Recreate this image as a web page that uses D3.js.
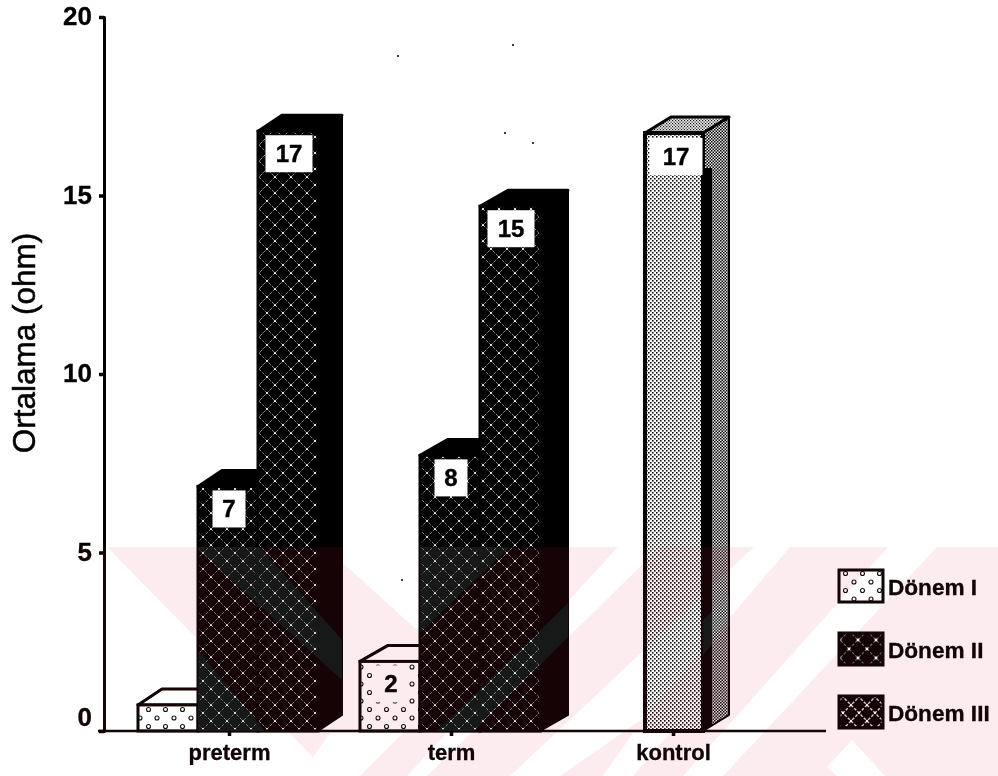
<!DOCTYPE html>
<html><head><meta charset="utf-8">
<script src="https://cdnjs.cloudflare.com/ajax/libs/d3/7.8.5/d3.min.js"></script>
<style>html,body{margin:0;padding:0;background:#fff}svg{display:block}text{font-family:"Liberation Sans",Arial,sans-serif;fill:#000;stroke:#000}path{stroke-linejoin:round}</style>
</head><body><div id="c"></div>
<script>
const categories=["preterm","term","kontrol"];
const seriesNames=["Dönem I","Dönem II","Dönem III"];
const preterm=[0.73,6.85,16.8];
const term=[1.95,7.72,14.7];
const kontrol=[null,null,16.75];
const pretermLabels=[null,"7","17"];
const termLabels=["2","8","15"];
const kontrolLabels=[null,null,"17"];
const yTicks=[0,5,10,15,20];
const W=998,H=776;
// watermark background shapes (scan artefact, not data)
const wmGaps=[
 [[0,547],[107,547],[313,757],[294,776],[0,776]],
 [[343,547],[430,547],[430,642],[343,563]],
 [[313,757],[294,776],[360,776],[403,733],[330,733]],
 [[618,547],[660,547],[427,776],[407,776]],
 [[754,547],[790,547],[645,717],[560,776],[510,776]],
 [[633,733],[670,733],[633,776],[603,776]],
 [[888,547],[937,547],[723,776],[683,776]],
 [[827,767],[852,740],[885,776],[837,776]]];
const wmGrey=[
 [[198,547],[260,547],[342,640],[342,680],[198,550]],
 [[198,650],[265,731],[198,731]],
 [[420,547],[510,547],[420,633]],
 [[568,603],[568,637],[474,731],[437,731]],
 [[703,620],[729,595],[729,625],[703,655]]];
const specks=[[398,56],[513,45],[505,133],[533,143],[402,580]];

const svg=d3.select("#c").append("svg").attr("width",W).attr("height",H);
const defs=svg.append("defs");
const y=d3.scaleLinear().domain([0,20]).range([731,17]);
const groupStart=d3.scaleOrdinal().domain(categories).range([138,360,645]);
const depth=d3.scaleOrdinal().domain(categories).range([24,28,26]);
const catX=d3.scalePoint().domain(categories).range([229,673]);
const bw=60,dy=16;

function lattice(id,s,lw,op,r){const p=defs.append("pattern").attr("id",id).attr("width",s).attr("height",s).attr("patternUnits","userSpaceOnUse").attr("patternTransform","translate(3,1)");
 p.append("rect").attr("width",s).attr("height",s).attr("fill","#000");
 p.append("path").attr("d",`M0 0L${s} ${s}M${s} 0L0 ${s}`).attr("stroke","#fff").attr("stroke-opacity",op).attr("stroke-width",lw).attr("stroke-dasharray","3 1.5");
 [[0,0],[s,0],[0,s],[s,s],[s/2,s/2]].forEach(c=>p.append("circle").attr("cx",c[0]).attr("cy",c[1]).attr("r",r).attr("fill","#fff"));}
function dots(id,s){const p=defs.append("pattern").attr("id",id).attr("width",s).attr("height",s).attr("patternUnits","userSpaceOnUse");
 p.append("rect").attr("width",s).attr("height",s).attr("fill","#fff");
 [[4,4],[4+s/2,4+s/2]].forEach(c=>p.append("circle").attr("cx",c[0]).attr("cy",c[1]).attr("r",2).attr("fill","none").attr("stroke","#111").attr("stroke-width",1.1));}
function stipple(id,bg,fg,s,d){const p=defs.append("pattern").attr("id",id).attr("width",s).attr("height",s).attr("patternUnits","userSpaceOnUse");
 p.append("rect").attr("width",s).attr("height",s).attr("fill",bg);
 p.append("rect").attr("width",d).attr("height",d).attr("fill",fg);
 p.append("rect").attr("x",s/2).attr("y",s/2).attr("width",d).attr("height",d).attr("fill",fg);}
lattice("p3",16,0.9,0.6,1.1);
lattice("p2",16,0.9,0.55,1.0);
lattice("lg2",18,1.2,0.45,1.4);
lattice("lg3",16,1.4,0.85,1.2);
dots("p1",17);
stipple("pk","#fff","#111",4,1.6);
stipple("pkside","#eee","#000",3,1.5);
stipple("pktop","#eee","#111",3,1.2);
const fills=["url(#p1)","url(#p2)","url(#p3)"];
const legendFills=["url(#p1)","url(#lg2)","url(#lg3)"];
const poly=d3.line();

// watermark background
const bg=svg.append("g");
bg.append("rect").attr("x",0).attr("y",547).attr("width",W).attr("height",H-547).attr("fill","#fdecef");
bg.selectAll("path").data(wmGaps).join("path").attr("d",d=>poly(d)+"Z").attr("fill","#fff");

const ink=svg.append("g").style("mix-blend-mode","multiply");
const g=ink.append("g");
const table=[[preterm,pretermLabels],[term,termLabels],[kontrol,kontrolLabels]];
categories.forEach((c,ci)=>{
 const ctrl=c==="kontrol",dx=depth(c);
 seriesNames.forEach((s,si)=>{
  const v=table[ci][0][si],l=table[ci][1][si];
  if(v==null) return;
  const x0=groupStart(c)+(ctrl?0:si*bw),x1=x0+(ctrl?58:bw),t=y(v),b=y(0);
  const topFill=ctrl?"url(#pktop)":(si===0?"#fff":"#000");
  const sideFill=ctrl?"url(#pkside)":(si===0?"#fff":"#000");
  g.append("path").attr("d",poly([[x1,b],[x1+dx,b-dy],[x1+dx,t-dy],[x1,t]])+"Z").attr("fill",sideFill).attr("stroke","#000").attr("stroke-width",2);
  if(ctrl) g.append("path").attr("d",poly([[x1,b],[x1+9,b-6],[x1+9,t+35],[x1,t+35]])+"Z").attr("fill","#000");
  g.append("path").attr("d",poly([[x0,t],[x0+dx,t-dy],[x1+dx,t-dy],[x1,t]])+"Z").attr("fill",topFill).attr("stroke","#000").attr("stroke-width",3);
  g.append("rect").attr("x",x0).attr("y",t).attr("width",x1-x0).attr("height",b-t).attr("fill",ctrl?"url(#pk)":fills[si]).attr("stroke","#000").attr("stroke-width",ctrl?4:3);
  if(l){const cx=x0+31,bwid=ctrl?53:(l.length>1?47:33),by=t+(ctrl?5:4);
   g.append("rect").attr("x",cx-bwid/2).attr("y",by).attr("width",bwid).attr("height",37).attr("fill","#fff");
   g.append("text").attr("x",cx).attr("y",by+27).attr("text-anchor","middle").attr("font-size",24).attr("font-weight","bold").attr("stroke-width",0.4).text(l);}
 });
});
// axes
const ya=ink.append("g").attr("transform","translate(104,0)").call(d3.axisLeft(y).tickValues(yTicks).tickSize(5).tickFormat(d3.format("d")));
ya.select(".domain").attr("stroke","#000").attr("stroke-width",3);
ya.selectAll(".tick line").attr("stroke","#000").attr("stroke-width",3.5);
ya.selectAll("text").attr("font-size",26).attr("font-weight","bold").attr("x",-12).attr("dy",d=>d===0?"-0.2em":"0.3em").attr("font-family","Liberation Sans").attr("stroke-width",0.3);
const xa=ink.append("g").attr("transform","translate(0,731)").call(d3.axisBottom(catX).tickSize(5));
xa.select(".domain").remove();
xa.selectAll(".tick line").attr("stroke","#000").attr("stroke-width",3.5);
xa.selectAll("text").attr("font-size",22).attr("font-weight","bold").attr("y",11).attr("dy","0.8em").attr("font-family","Liberation Sans").attr("stroke-width",0.3);
ink.append("line").attr("x1",98).attr("x2",826).attr("y1",y(0)).attr("y2",y(0)).attr("stroke","#000").attr("stroke-width",2.5);
ink.append("text").attr("transform","translate(35,343) rotate(-90)").attr("text-anchor","middle").attr("font-size",31.5).attr("stroke-width",0.5).text("Ortalama (ohm)");
// legend
const legY=d3.scalePoint().domain(seriesNames).range([587,713]);
seriesNames.forEach((s,i)=>{
 ink.append("rect").attr("x",839).attr("y",legY(s)-17).attr("width",44).attr("height",32).attr("fill",legendFills[i]).attr("stroke","#000").attr("stroke-width",3);
 ink.append("text").attr("x",888).attr("y",legY(s)+8).attr("font-size",22.6).attr("font-weight","bold").attr("stroke-width",0.3).text(s);
});
ink.selectAll("circle.sp").data(specks).join("circle").attr("class","sp").attr("cx",d=>d[0]).attr("cy",d=>d[1]).attr("r",1).attr("fill","#000");

// watermark tint over dark ink
svg.append("rect").attr("x",0).attr("y",547).attr("width",W).attr("height",H-547).attr("fill","#150306").style("mix-blend-mode","lighten");
svg.append("g").selectAll("path").data(wmGrey).join("path").attr("d",d=>poly(d)+"Z").attr("fill","#171919").style("mix-blend-mode","lighten");
</script></body></html>
